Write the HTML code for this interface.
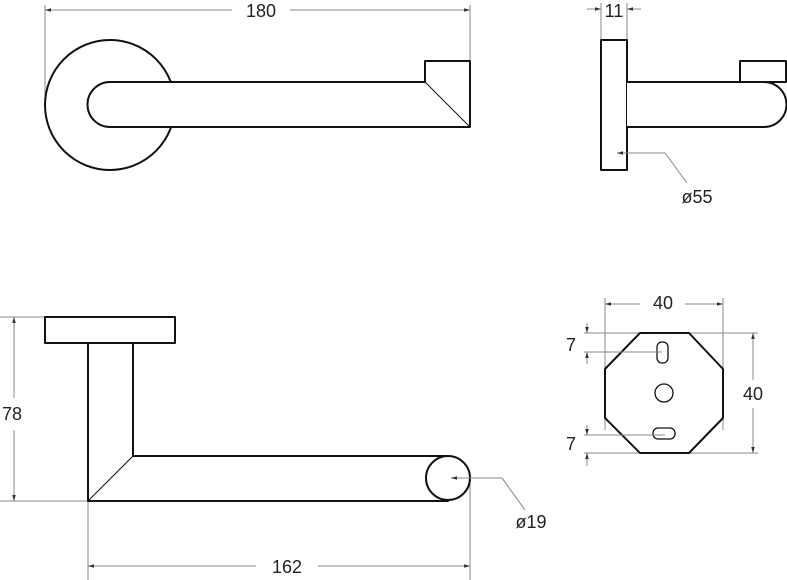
<!DOCTYPE html>
<html><head><meta charset="utf-8"><style>
html,body{margin:0;padding:0;background:#fff}
svg{display:block}
text{font-family:"Liberation Sans",sans-serif;font-size:18px;fill:#222}
</style></head><body>
<svg width="787" height="580" viewBox="0 0 787 580" xmlns="http://www.w3.org/2000/svg">
<defs>
<marker id="a" viewBox="0 0 10 10" refX="10" refY="5" markerWidth="6" markerHeight="6" orient="auto-start-reverse"><path d="M0,2 L10,5 L0,8z" fill="#333"/></marker>
</defs>
<g stroke="#888" stroke-width="1" fill="none">
<line x1="45" y1="5" x2="45" y2="100"/><line x1="470" y1="5" x2="470" y2="60"/>
<line x1="45" y1="10" x2="232" y2="10" marker-start="url(#a)"/>
<line x1="290" y1="10" x2="470" y2="10" marker-end="url(#a)"/>
<line x1="601" y1="3" x2="601" y2="40"/><line x1="627" y1="3" x2="627" y2="40"/>
<line x1="587" y1="9" x2="601" y2="9" marker-end="url(#a)"/>
<line x1="641" y1="9" x2="627" y2="9" marker-end="url(#a)"/>
<line x1="0" y1="317" x2="45" y2="317"/><line x1="0" y1="501" x2="88" y2="501"/>
<line x1="14" y1="317" x2="14" y2="398" marker-start="url(#a)"/>
<line x1="14" y1="430" x2="14" y2="501" marker-end="url(#a)"/>
<line x1="88" y1="501" x2="88" y2="580"/><line x1="470" y1="478" x2="470" y2="580"/>
<line x1="88" y1="566" x2="256" y2="566" marker-start="url(#a)"/>
<line x1="318" y1="566" x2="470" y2="566" marker-end="url(#a)"/>
<line x1="605" y1="298" x2="605" y2="430"/><line x1="723" y1="298" x2="723" y2="430"/>
<line x1="605" y1="304" x2="640" y2="304" marker-start="url(#a)"/>
<line x1="685" y1="304" x2="723" y2="304" marker-end="url(#a)"/>
<line x1="584" y1="333" x2="758" y2="333"/><line x1="584" y1="453" x2="758" y2="453"/>
<line x1="753" y1="333" x2="753" y2="380" marker-start="url(#a)"/>
<line x1="753" y1="408" x2="753" y2="453" marker-end="url(#a)"/>
<line x1="587" y1="323" x2="587" y2="333" marker-end="url(#a)"/>
<line x1="587" y1="364" x2="587" y2="352" marker-end="url(#a)"/>
<line x1="587" y1="425" x2="587" y2="435" marker-end="url(#a)"/>
<line x1="587" y1="466" x2="587" y2="453" marker-end="url(#a)"/>
</g>
<g stroke="#111" stroke-width="2" fill="#fff" stroke-linejoin="round">
<circle cx="110" cy="105" r="65"/>
<path d="M110,82 L425,82 L425,61 L470,61 L470,127 L110,127 A22.5,22.5 0 0 1 110,82Z"/>
<line x1="425" y1="82" x2="470" y2="127" stroke-width="1"/>
<rect x="601" y="40" width="26" height="130"/>
<rect x="740" y="61" width="46" height="21"/>
<path d="M627,82 L764,82 A22.5,22.5 0 0 1 764,127 L627,127"/>
<rect x="45" y="317" width="130" height="26"/>
<path d="M88,343 L133,343 L133,456 L448,456 L448,501 L88,501Z"/>
<line x1="133" y1="456" x2="88" y2="501" stroke-width="1"/>
<circle cx="448" cy="478" r="22"/>
<polygon points="640,333 689,333 723,369 723,418 689,453 640,453 605,418 605,369"/>
<rect x="657" y="342" width="11" height="21" rx="5" stroke-width="1.3"/>
<rect x="653" y="428" width="22" height="11" rx="5" stroke-width="1.3"/>
<circle cx="664" cy="393" r="9" stroke-width="1.3"/>
</g>
<g stroke="#888" stroke-width="1" fill="none">
<polyline points="687,183 665,153 617,153" marker-end="url(#a)"/>
<polyline points="525,510 502,478 451,478" marker-end="url(#a)"/>
<line x1="584" y1="352" x2="662" y2="352"/>
<line x1="584" y1="435" x2="665" y2="435"/>
</g>
<text x="261" y="17" text-anchor="middle">180</text>
<text x="614" y="17" text-anchor="middle">11</text>
<text x="697" y="203" text-anchor="middle">ø55</text>
<text x="12" y="420" text-anchor="middle">78</text>
<text x="287" y="573" text-anchor="middle">162</text>
<text x="531" y="528" text-anchor="middle">ø19</text>
<text x="663" y="309" text-anchor="middle">40</text>
<text x="753" y="400" text-anchor="middle">40</text>
<text x="571" y="351" text-anchor="middle">7</text>
<text x="571" y="450" text-anchor="middle">7</text>
</svg>
</body></html>
